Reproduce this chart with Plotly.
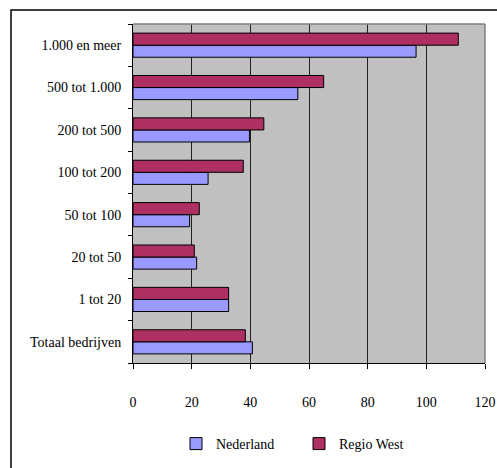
import plotly.graph_objects as go

categories = ["Totaal bedrijven", "1 tot 20", "20 tot 50", "50 tot 100",
              "100 tot 200", "200 tot 500", "500 tot 1.000", "1.000 en meer"]
nederland = [40.7, 32.6, 21.7, 19.3, 25.6, 39.7, 56.2, 96.5]
regio_west = [38.3, 32.6, 20.9, 22.6, 37.6, 44.6, 65.0, 110.9]
x_ticks = [0, 20, 40, 60, 80, 100, 120]

FONT = "'Liberation Serif', 'Times New Roman', Times, serif"

fig = go.Figure()
fig.add_trace(go.Bar(y=categories, x=nederland, orientation="h", name="Nederland",
                     marker=dict(color="#9999FF", line=dict(color="black", width=1))))
fig.add_trace(go.Bar(y=categories, x=regio_west, orientation="h", name="Regio West",
                     marker=dict(color="#AE3063", line=dict(color="black", width=1))))

W, H = 497, 468
L, R, T, B = 133, 12, 24, 105
pw, ph = W - L - R, H - T - B

fig.update_layout(
    width=W, height=H,
    margin=dict(l=L, r=R, t=T, b=B, pad=0, autoexpand=False),
    paper_bgcolor="white",
    plot_bgcolor="#C0C0C0",
    barmode="group",
    bargap=0.43,
    bargroupgap=0,
    font=dict(family=FONT, size=14, color="black"),
    showlegend=True,
    legend=dict(orientation="h", x=(176 - L) / pw, xanchor="left",
                y=(H - B - 444) / ph, yanchor="middle",
                font=dict(family=FONT, size=14, color="black"),
                entrywidthmode="pixels", entrywidth=78,
                bgcolor="rgba(0,0,0,0)"),
    xaxis=dict(range=[0, 120], tickvals=x_ticks, showgrid=True,
               gridcolor="#222222", gridwidth=1, zeroline=False,
               showline=True, linecolor="black", linewidth=1,
               ticks="outside", ticklen=5, tickcolor="black",
               ticklabelstandoff=21, fixedrange=True, automargin=False),
    yaxis=dict(type="category", categoryorder="array", categoryarray=categories,
               showgrid=False, zeroline=False, showline=True,
               linecolor="black", linewidth=1, ticks="outside",
               tickson="boundaries", ticklen=4, tickcolor="black",
               ticklabelstandoff=8, fixedrange=True, automargin=False),
    shapes=[
        dict(type="line", xref="paper", yref="paper", x0=0, x1=1, y0=1, y1=1,
             line=dict(color="#808080", width=1.5), layer="above"),
        dict(type="line", xref="paper", yref="paper", x0=1, x1=1, y0=0, y1=1,
             line=dict(color="#808080", width=1.5), layer="above"),
        dict(type="rect", xref="paper", yref="paper",
             x0=(11 - L) / pw, x1=(W + 5 - L) / pw,
             y0=(H - B - (H + 5)) / ph, y1=1 + (T - 10) / ph,
             line=dict(color="black", width=1.5), layer="above"),
    ],
)

fig.write_html("out.html", config={"displayModeBar": False},
               post_script="document.body.style.margin='0';document.body.style.overflow='hidden';")
